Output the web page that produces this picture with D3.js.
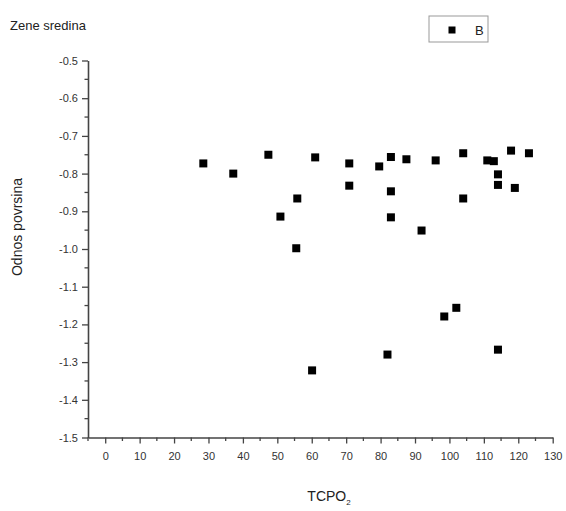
<!DOCTYPE html>
<html><head><meta charset="utf-8">
<script src="https://cdn.jsdelivr.net/npm/d3@7"></script>
<style>body{margin:0;background:#fff}svg{display:block}</style>
</head><body>
<script>
const xValues = [28.5, 37.2, 47.4, 61.0, 50.9, 55.8, 55.5, 70.9, 70.9, 79.6, 83.0, 87.5, 83.0, 83.0, 91.9, 96.0, 104.0, 104.0, 111.0, 112.9, 114.1, 114.1, 117.9, 119.0, 123.1, 102.0, 98.5, 82.0, 60.1, 114.1];
const yValues = [-0.773, -0.800, -0.750, -0.757, -0.914, -0.866, -0.998, -0.773, -0.832, -0.781, -0.756, -0.762, -0.847, -0.916, -0.951, -0.765, -0.746, -0.866, -0.765, -0.767, -0.802, -0.830, -0.739, -0.838, -0.746, -1.156, -1.179, -1.280, -1.322, -1.267];
const xTicks = [0,10,20,30,40,50,60,70,80,90,100,110,120,130];
const yTicks = [-0.5,-0.6,-0.7,-0.8,-0.9,-1.0,-1.1,-1.2,-1.3,-1.4,-1.5];
const seriesName = "B";
const title = "Zene sredina";
const xLabel = "TCPO";
const yLabel = "Odnos povrsina";

const W = 566, H = 511;
const svg = d3.select("body").append("svg").attr("width", W).attr("height", H)
  .style("font-family", "Arial, 'Liberation Sans', sans-serif");

const x = d3.scaleLinear().domain([-5, 130]).range([88, 552.7]);
const y = d3.scaleLinear().domain([-1.5, -0.5]).range([437.5, 60.5]);

const axisColor = "#444";
const xMinor = d3.range(-5, 131, 5).filter(v => v % 10 !== 0);
const yMinor = d3.range(-1.45, -0.5, 0.1).map(v => +v.toFixed(2));

const xAxis = svg.append("g").attr("transform", `translate(0,${y(-1.5)})`)
  .call(d3.axisBottom(x).tickValues(xTicks).tickSize(6).tickSizeOuter(0).tickFormat(d => String(d)));
const yAxis = svg.append("g").attr("transform", `translate(${x(-5)},0)`)
  .call(d3.axisLeft(y).tickValues(yTicks).tickSize(6).tickSizeOuter(0).tickFormat(d => d.toFixed(1)));
[xAxis, yAxis].forEach(g => {
  g.select(".domain").attr("stroke", axisColor).attr("stroke-width", 1.6);
  g.selectAll(".tick line").attr("stroke", axisColor).attr("stroke-width", 1.3);
  g.selectAll(".tick text").attr("fill", "#333").style("font-size", "11px");
});
xAxis.selectAll(".tick text").attr("dy", "1.2em");
yAxis.selectAll(".tick text").attr("dx", "-1px");

svg.append("g").selectAll("line").data(xMinor).join("line")
  .attr("x1", d => x(d)).attr("x2", d => x(d))
  .attr("y1", y(-1.5)).attr("y2", y(-1.5) + 3.5)
  .attr("stroke", axisColor).attr("stroke-width", 1.3);
svg.append("g").selectAll("line").data(yMinor).join("line")
  .attr("y1", d => y(d)).attr("y2", d => y(d))
  .attr("x1", x(-5)).attr("x2", x(-5) - 3.5)
  .attr("stroke", axisColor).attr("stroke-width", 1.3);

// points
const s = 8;
svg.append("g").selectAll("rect").data(xValues.map((v, i) => [v, yValues[i]])).join("rect")
  .attr("x", d => x(d[0]) - s / 2).attr("y", d => y(d[1]) - s / 2)
  .attr("width", s).attr("height", s).attr("fill", "#000");

// title
svg.append("text").attr("x", 10).attr("y", 30).text(title)
  .style("font-size", "13px").attr("fill", "#222");

// legend
svg.append("rect").attr("x", 429).attr("y", 16).attr("width", 59).attr("height", 26)
  .attr("fill", "#fff").attr("stroke", "#999").attr("stroke-width", 1);
svg.append("rect").attr("x", 448.5).attr("y", 26.5).attr("width", 7).attr("height", 7).attr("fill", "#000");
svg.append("text").attr("x", 475).attr("y", 35).text(seriesName)
  .style("font-size", "13px").attr("fill", "#222");

// x label
const xl = svg.append("text").attr("x", 329).attr("y", 501).attr("text-anchor", "middle")
  .style("font-size", "14px").attr("fill", "#222");
xl.append("tspan").text(xLabel);
xl.append("tspan").text("2").style("font-size", "8px").attr("dy", 4);

// y label
svg.append("text").attr("transform", `translate(22,227) rotate(-90)`)
  .attr("text-anchor", "middle").text(yLabel)
  .style("font-size", "14px").attr("fill", "#222");
</script>
</body></html>
